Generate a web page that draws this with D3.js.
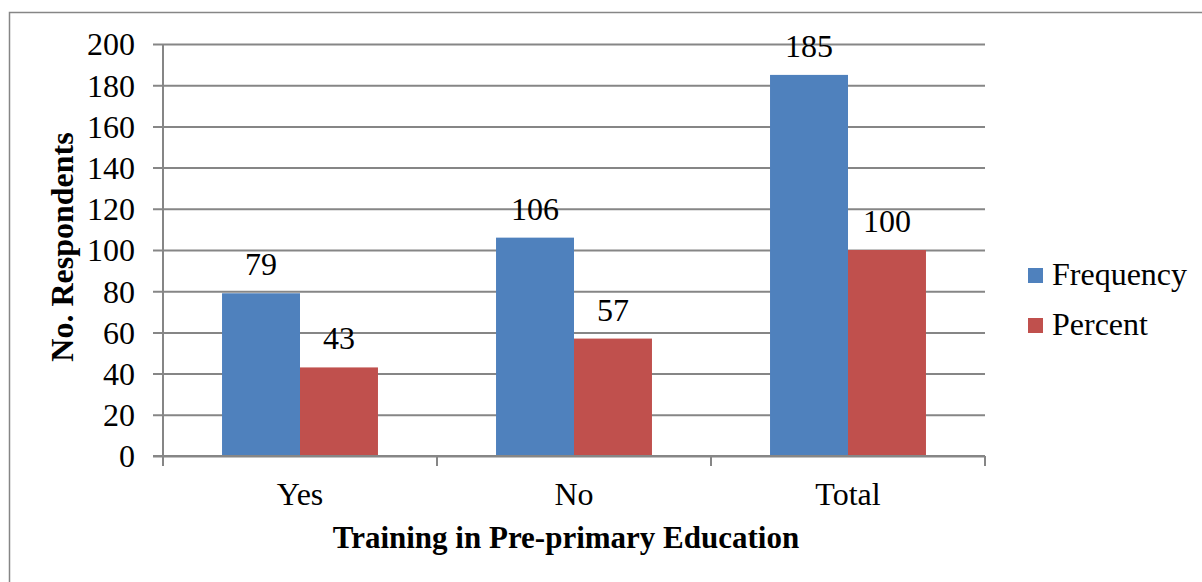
<!DOCTYPE html>
<html>
<head>
<meta charset="utf-8">
<script src="https://cdn.jsdelivr.net/npm/d3@7"></script>
<style>
  html, body { margin: 0; padding: 0; background: #fff; }
</style>
</head>
<body>
<svg id="chart" width="1202" height="582" font-family="Liberation Serif"></svg>
<script>
// Training in pre-primary education: respondent counts and shares
const categories = ["Yes", "No", "Total"];
const seriesNames = ["Frequency", "Percent"];
const frequency = [79, 106, 185];
const percent = [43, 57, 100];
const yTicks = [0, 20, 40, 60, 80, 100, 120, 140, 160, 180, 200];

const colors = { Frequency: "#4F81BD", Percent: "#C0504D" };
const gridColor = "#868686";
const FONT = "Liberation Serif";

const svg = d3.select("#chart");

// outer chart border (runs off the right and bottom edges)
svg.append("rect")
  .attr("x", 9.5).attr("y", 12.5)
  .attr("width", 1210).attr("height", 590)
  .attr("fill", "none").attr("stroke", gridColor).attr("stroke-width", 1.5);

const plot = { left: 163, right: 985, top: 44, bottom: 456 };

const x = d3.scaleBand().domain(categories)
  .range([plot.left, plot.right]).paddingInner(0).paddingOuter(0);
const xs = d3.scaleBand().domain(seriesNames)
  .range([0, x.bandwidth()]).paddingInner(0).paddingOuter(0.757);
const y = d3.scaleLinear().domain([0, 200]).range([plot.bottom, plot.top]);

// horizontal gridlines with outward ticks
const yAxis = svg.append("g")
  .attr("transform", `translate(${plot.left},0)`)
  .call(d3.axisLeft(y).tickValues(yTicks).tickSize(-(plot.right - plot.left)));
yAxis.attr("font-family", FONT).attr("font-size", 32);
yAxis.select(".domain").remove();
yAxis.selectAll(".tick line")
  .attr("x1", -10)
  .attr("stroke", gridColor).attr("stroke-width", 2);
yAxis.selectAll(".tick text")
  .attr("font-family", FONT).attr("font-size", 32)
  .attr("x", -28).attr("dy", "0.34em").attr("fill", "#000");

// vertical axis line
svg.append("line")
  .attr("x1", plot.left).attr("x2", plot.left)
  .attr("y1", plot.top).attr("y2", plot.bottom)
  .attr("stroke", gridColor).attr("stroke-width", 2);

// bars
const data = categories.map((c, i) => ({ cat: c, vals: [
  { key: "Frequency", v: frequency[i] },
  { key: "Percent", v: percent[i] }
]}));

const groups = svg.append("g").selectAll("g").data(data).join("g")
  .attr("transform", d => `translate(${x(d.cat)},0)`);

groups.selectAll("rect").data(d => d.vals).join("rect")
  .attr("x", d => xs(d.key))
  .attr("width", xs.bandwidth())
  .attr("y", d => y(d.v))
  .attr("height", d => y(0) - y(d.v))
  .attr("fill", d => colors[d.key]);

// value labels above bars
groups.selectAll("text.val").data(d => d.vals).join("text")
  .attr("class", "val")
  .attr("x", d => xs(d.key) + xs.bandwidth() / 2)
  .attr("y", d => y(d.v) - 18)
  .attr("text-anchor", "middle")
  .attr("font-family", FONT)
  .attr("font-size", 32)
  .attr("fill", "#000")
  .text(d => d.v);

// category axis along zero
const xAxis = svg.append("g")
  .attr("transform", `translate(0,${plot.bottom})`);
xAxis.append("line")
  .attr("x1", plot.left - 10).attr("x2", plot.right)
  .attr("stroke", gridColor).attr("stroke-width", 2);
const tickXs = [plot.left].concat(categories.map(c => x(c) + x.bandwidth()));
xAxis.selectAll("line.tk").data(tickXs).join("line")
  .attr("class", "tk")
  .attr("x1", d => d).attr("x2", d => d)
  .attr("y1", 0).attr("y2", 10)
  .attr("stroke", gridColor).attr("stroke-width", 2);
xAxis.selectAll("text").data(categories).join("text")
  .attr("x", d => x(d) + x.bandwidth() / 2)
  .attr("y", 49)
  .attr("text-anchor", "middle")
  .attr("font-family", FONT)
  .attr("font-size", 32)
  .attr("fill", "#000")
  .text(d => d);

// axis titles
svg.append("text")
  .attr("x", (plot.left + plot.right) / 2 - 8)
  .attr("y", 548)
  .attr("text-anchor", "middle")
  .attr("font-family", FONT)
  .attr("font-size", 31).attr("font-weight", "bold")
  .attr("fill", "#000")
  .text("Training in Pre-primary Education");

svg.append("text")
  .attr("transform", "translate(73,247) rotate(-90)")
  .attr("text-anchor", "middle")
  .attr("font-family", FONT)
  .attr("font-size", 32).attr("font-weight", "bold")
  .attr("fill", "#000")
  .text("No. Respondents");

// legend
const legend = svg.append("g").selectAll("g").data(seriesNames).join("g")
  .attr("transform", (d, i) => `translate(1028,${268 + i * 50})`);
legend.append("rect")
  .attr("width", 15).attr("height", 15)
  .attr("fill", d => colors[d]);
legend.append("text")
  .attr("x", 24).attr("y", 17)
  .attr("font-family", FONT)
  .attr("font-size", 32)
  .attr("fill", "#000")
  .text(d => d);
</script>
</body>
</html>
